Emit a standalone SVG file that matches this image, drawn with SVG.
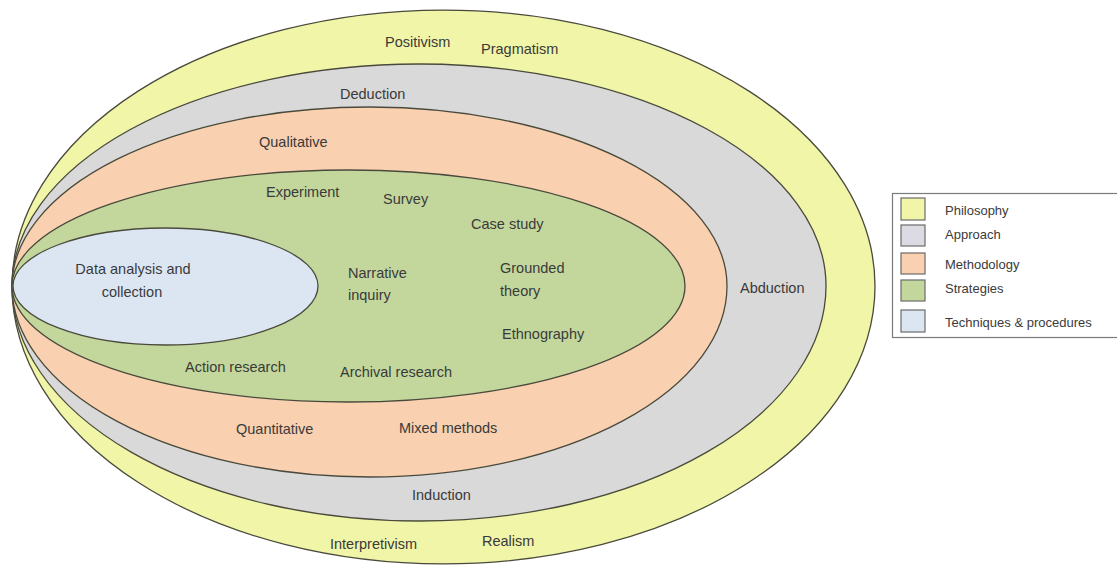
<svg xmlns="http://www.w3.org/2000/svg" width="1117" height="566" viewBox="0 0 1117 566">
<style>
.ring{stroke:#4a4a3c;stroke-width:1.3}
.t{font-family:"Liberation Sans",Arial,sans-serif;font-size:14.5px;fill:#3a3a3a}
.c{text-anchor:middle}
.lg{font-family:"Liberation Sans",Arial,sans-serif;font-size:13px;fill:#3a3a3a}
.sw{stroke:#6b6b6b;stroke-width:1.2}
.philosophy{fill:#f1f5a8}
.approach{fill:#d9d9d9}
.methodology{fill:#f9d0b0}
.strategies{fill:#c3d79c}
.techniques{fill:#dce6f2}
</style>
<rect width="1117" height="566" fill="#ffffff"/>
<g id="philosophy">
<path class="ring philosophy" d="M12 286 A431.5 276 0 0 1 875 286 A431.5 278 0 0 1 12 286 Z"/>
<text class="t" x="385" y="47">Positivism</text>
<text class="t" x="481" y="54">Pragmatism</text>
<text class="t" x="330" y="549">Interpretivism</text>
<text class="t" x="482" y="546">Realism</text>
</g>
<g id="approach">
<path class="ring approach" d="M12 286 A407 222 0 0 1 826 286 A407 235 0 0 1 12 286 Z"/>
<text class="t" x="340" y="99">Deduction</text>
<text class="t" x="740" y="293">Abduction</text>
<text class="t" x="412" y="500">Induction</text>
</g>
<g id="methodology">
<path class="ring methodology" d="M12 286 A357.5 179 0 0 1 727 286 A357.5 191 0 0 1 12 286 Z"/>
<text class="t" x="259" y="147">Qualitative</text>
<text class="t" x="236" y="434">Quantitative</text>
<text class="t" x="399" y="433">Mixed methods</text>
</g>
<g id="strategies">
<path class="ring strategies" d="M12 286 A336.5 116 0 0 1 685 286 A336.5 116 0 0 1 12 286 Z"/>
<text class="t" x="266" y="197">Experiment</text>
<text class="t" x="383" y="204">Survey</text>
<text class="t" x="471" y="229">Case study</text>
<text class="t" x="348" y="278">Narrative</text>
<text class="t" x="348" y="300">inquiry</text>
<text class="t" x="500" y="273">Grounded</text>
<text class="t" x="500" y="296">theory</text>
<text class="t" x="502" y="339">Ethnography</text>
<text class="t" x="185" y="372">Action research</text>
<text class="t" x="340" y="377">Archival research</text>
</g>
<g id="techniques">
<path class="ring techniques" d="M13 286 A152.5 58 0 0 1 318 286 A152.5 59 0 0 1 13 286 Z"/>
<text class="t c" x="133" y="274">Data analysis and</text>
<text class="t c" x="132" y="297">collection</text>
</g>
<g id="connectors"></g>
<g id="legend">
<rect x="892.5" y="193.5" width="240" height="144" fill="#ffffff" stroke="#7a7a7a" stroke-width="1.2"/>
<rect class="sw philosophy" x="901" y="198" width="24" height="22"/>
<rect class="sw approach" x="901" y="225" width="24" height="21" style="fill:#dcdbe3"/>
<rect class="sw methodology" x="901" y="253" width="24" height="21"/>
<rect class="sw strategies" x="901" y="280" width="24" height="21"/>
<rect class="sw techniques" x="901" y="310" width="24" height="22"/>
<text class="lg" x="945" y="215">Philosophy</text>
<text class="lg" x="945" y="239">Approach</text>
<text class="lg" x="945" y="269">Methodology</text>
<text class="lg" x="945" y="293">Strategies</text>
<text class="lg" x="945" y="327">Techniques &amp; procedures</text>
</g>
</svg>
